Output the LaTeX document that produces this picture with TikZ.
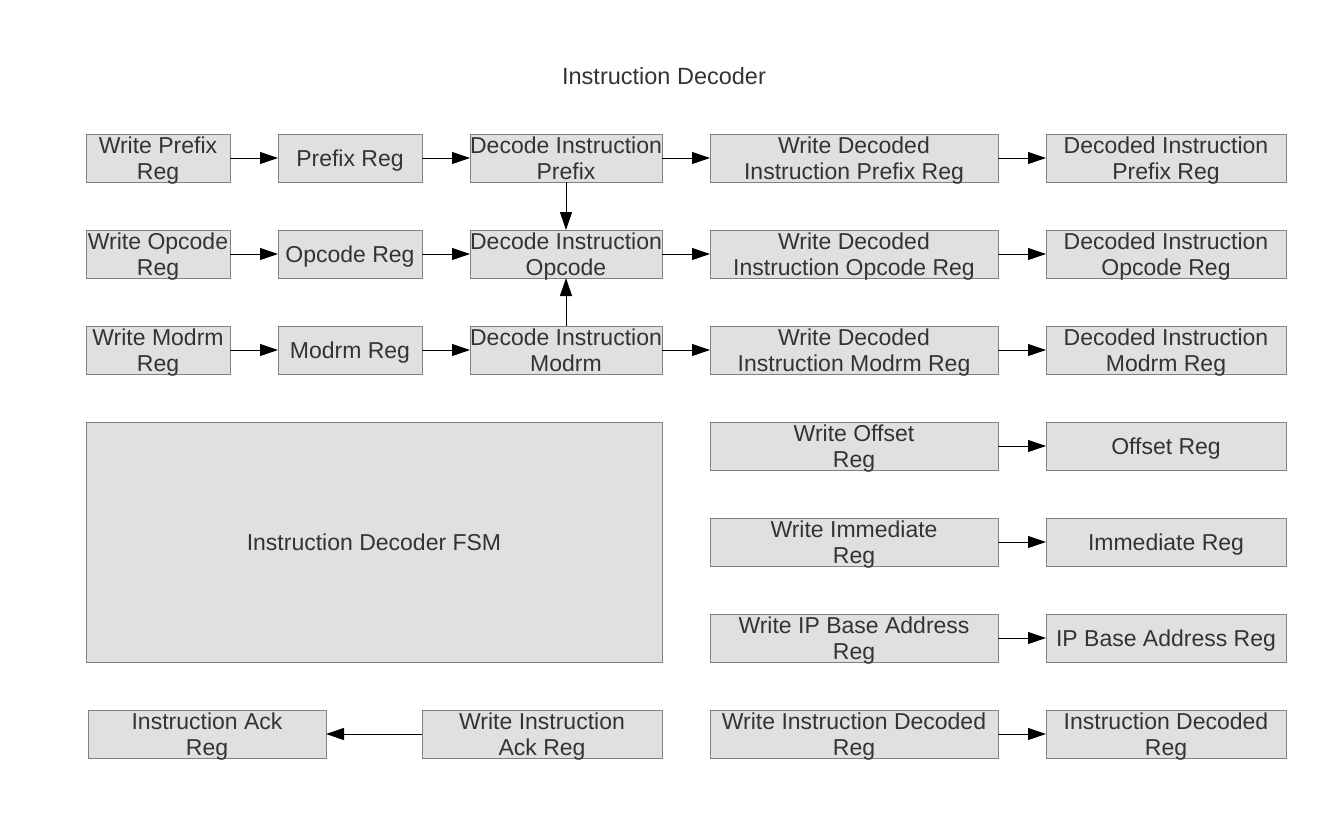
\documentclass[tikz,border=0pt]{standalone}
\usepackage{fontspec}
\setmainfont{Liberation Sans}
\usetikzlibrary{positioning,arrows.meta}
\definecolor{boxfill}{HTML}{E0E0E0}
\definecolor{boxline}{HTML}{808080}
\definecolor{boxtext}{HTML}{333333}
\tikzset{
  reg/.style={draw=boxline, fill=boxfill, text=boxtext, line width=1pt,
    inner sep=0pt, outer sep=0pt, minimum height=48pt, align=center,
    text height=32pt, text depth=16pt,
    font=\fontsize{23}{26}\selectfont},
  two lines/.style={text height=45pt, text depth=3pt},
  link/.style={draw=black, line width=1pt, -{Triangle[length=18pt,width=12pt]}}
}

\begin{document}
\begin{tikzpicture}[x=1pt, y=-1pt, node distance=48pt]
  \useasboundingbox (0,0) rectangle (1344,816);
  \node[text=boxtext, font=\fontsize{23.5}{26}\selectfont] (title) at (664,76) {Instruction Decoder};

  \node[reg, two lines, minimum width=144pt] (wpre) at (158,158) {Write Prefix\\Reg};
  \node[reg, minimum width=144pt, right=of wpre] (pre) {Prefix Reg};
  \node[reg, two lines, minimum width=192pt, right=of pre] (dpre) {Decode Instruction\\Prefix};
  \node[reg, two lines, minimum width=288pt, right=of dpre] (wdpre) {Write Decoded\\Instruction Prefix Reg};
  \node[reg, two lines, minimum width=240pt, right=of wdpre] (ddpre) {Decoded Instruction\\Prefix Reg};

  \node[reg, two lines, minimum width=144pt] (wop) at (158,254) {Write Opcode\\Reg};
  \node[reg, minimum width=144pt, right=of wop] (op) {Opcode Reg};
  \node[reg, two lines, minimum width=192pt, right=of op] (dop) {Decode Instruction\\Opcode};
  \node[reg, two lines, minimum width=288pt, right=of dop] (wdop) {Write Decoded\\Instruction Opcode Reg};
  \node[reg, two lines, minimum width=240pt, right=of wdop] (ddop) {Decoded Instruction\\Opcode Reg};

  \node[reg, two lines, minimum width=144pt] (wmod) at (158,350) {Write Modrm\\Reg};
  \node[reg, minimum width=144pt, right=of wmod] (mod) {Modrm Reg};
  \node[reg, two lines, minimum width=192pt, right=of mod] (dmod) {Decode Instruction\\Modrm};
  \node[reg, two lines, minimum width=288pt, right=of dmod] (wdmod) {Write Decoded\\Instruction Modrm Reg};
  \node[reg, two lines, minimum width=240pt, right=of wdmod] (ddmod) {Decoded Instruction\\Modrm Reg};

  \node[reg, minimum width=576pt, minimum height=240pt] (fsm) at (374,542) {Instruction Decoder FSM};

  \node[reg, two lines, minimum width=288pt] (wofs) at (854,446) {Write Offset\\Reg};
  \node[reg, minimum width=240pt, right=of wofs] (ofs) {Offset Reg};
  \node[reg, two lines, minimum width=288pt] (wimm) at (854,542) {Write Immediate\\Reg};
  \node[reg, minimum width=240pt, right=of wimm] (imm) {Immediate Reg};
  \node[reg, two lines, minimum width=288pt] (wip) at (854,638) {Write IP Base Address\\Reg};
  \node[reg, minimum width=240pt, right=of wip] (ip) {IP Base Address Reg};
  \node[reg, two lines, minimum width=288pt] (wdec) at (854,734) {Write Instruction Decoded\\Reg};
  \node[reg, two lines, minimum width=240pt, right=of wdec] (dec) {Instruction Decoded\\Reg};

  \node[reg, two lines, minimum width=238pt] (ack) at (207,734) {Instruction Ack\\Reg};
  \node[reg, two lines, minimum width=240pt] (wack) at (542,734) {Write Instruction\\Ack Reg};

  \draw[link] (wpre) -- (pre);
  \draw[link] (pre) -- (dpre);
  \draw[link] (dpre) -- (wdpre);
  \draw[link] (wdpre) -- (ddpre);
  \draw[link] (wop) -- (op);
  \draw[link] (op) -- (dop);
  \draw[link] (dop) -- (wdop);
  \draw[link] (wdop) -- (ddop);
  \draw[link] (wmod) -- (mod);
  \draw[link] (mod) -- (dmod);
  \draw[link] (dmod) -- (wdmod);
  \draw[link] (wdmod) -- (ddmod);
  \draw[link] (dpre) -- (dop);
  \draw[link] (dmod) -- (dop);
  \draw[link] (wofs) -- (ofs);
  \draw[link] (wimm) -- (imm);
  \draw[link] (wip) -- (ip);
  \draw[link] (wdec) -- (dec);
  \draw[link] (wack) -- (ack);
\end{tikzpicture}
\end{document}
